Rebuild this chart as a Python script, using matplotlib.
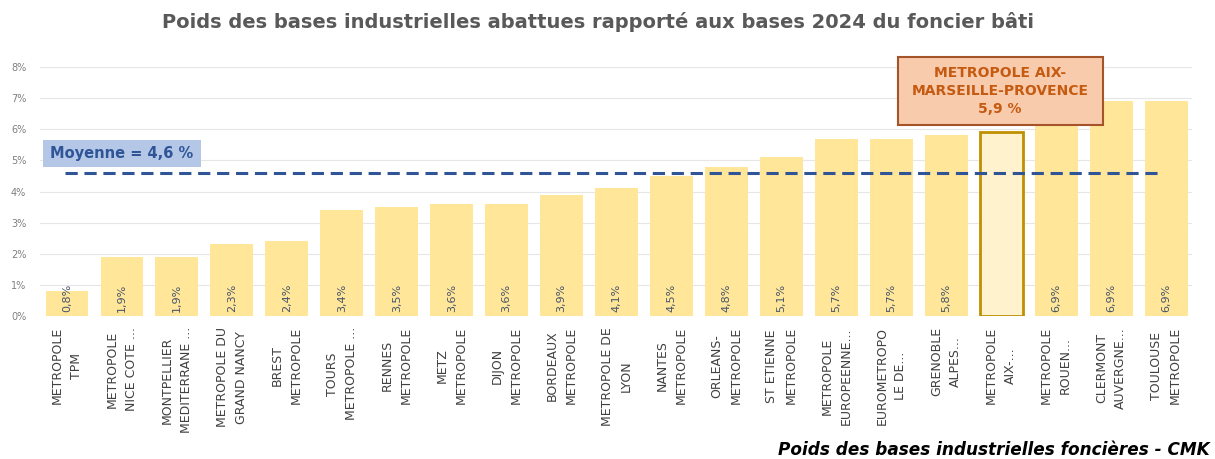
import numpy as np
import matplotlib.pyplot as plt
from matplotlib.patches import Rectangle

# Data
labels = [
    "METROPOLE\nTPM", "METROPOLE\nNICE COTE ...", "MONTPELLIER\nMEDITERRANE ...",
    "METROPOLE DU\nGRAND NANCY", "BREST\nMETROPOLE", "TOURS\nMETROPOLE ...",
    "RENNES\nMETROPOLE", "METZ\nMETROPOLE", "DIJON\nMETROPOLE",
    "BORDEAUX\nMETROPOLE", "METROPOLE DE\nLYON", "NANTES\nMETROPOLE",
    "ORLEANS-\nMETROPOLE", "ST ETIENNE\nMETROPOLE", "METROPOLE\nEUROPEENNE...",
    "EUROMETROPO\nLE DE...", "GRENOBLE\nALPES...", "METROPOLE\nAIX-...",
    "METROPOLE\nROUEN...", "CLERMONT\nAUVERGNE...", "TOULOUSE\nMETROPOLE",
]
values = [0.8, 1.9, 1.9, 2.3, 2.4, 3.4, 3.5, 3.6, 3.6, 3.9, 4.1,
          4.5, 4.8, 5.1, 5.7, 5.7, 5.8, 5.9, 6.9, 6.9, 6.9]
highlight = 17  # Aix-Marseille-Provence
mean_value = 4.6

x = np.arange(len(values))

fig = plt.figure(figsize=(12.15, 4.59), dpi=100)
ax = fig.add_axes([0.033, 0.3115, 0.948, 0.5425])

colors = ['#FFE699'] * len(values)
colors[highlight] = '#FFF2CC'
bars = ax.bar(x, values, width=0.78, color=colors, zorder=2)
bars[highlight].set_edgecolor('#BF9000')
bars[highlight].set_linewidth(2)

# value labels (rotated, at the bottom of each bar)
for i, v in enumerate(values):
    if i == highlight:
        continue
    ax.text(i, 0.12, f"{v:.1f}%".replace('.', ','), rotation=90,
            ha='center', va='bottom', fontsize=8, color='#44546A', zorder=3)

# mean line
ax.hlines(mean_value, x[0] - 0.04, x[-1] - 0.07, colors='#2F5597',
          linestyles=(0, (4, 2.2)), linewidth=2.2, zorder=4)
ax.add_patch(Rectangle((-0.437, 4.79), 2.88, 0.87, facecolor='#B4C7E7',
                       edgecolor='none', zorder=4, clip_on=False))
ax.text(1.0, 5.22, "Moyenne = " + f"{mean_value:.1f}".replace('.', ',') + " %",
        ha='center', va='center', fontsize=10.5, fontweight='bold',
        color='#2F5597', zorder=5)

# highlighted callout
ax.add_patch(Rectangle((15.12, 6.14), 3.73, 2.19, facecolor='#F8CBAD',
                       edgecolor='#A5542A', linewidth=1.5, zorder=5,
                       clip_on=False))
ax.text(16.98, 7.24,
        "METROPOLE AIX-\nMARSEILLE-PROVENCE\n" +
        f"{values[highlight]:.1f}".replace('.', ',') + " %",
        ha='center', va='center', fontsize=10, fontweight='bold',
        color='#C55A11', linespacing=1.35, zorder=6, clip_on=False)

ax.set_xlim(-0.49, 20.47)
ax.set_ylim(0, 8)
ax.set_yticks(range(0, 9))
ax.set_yticklabels([f"{t}%" for t in range(0, 9)], fontsize=7, color='#7F7F7F')
ax.set_xticks(x)
ax.set_xticklabels(labels, rotation=90, fontsize=9, color='#404040',
                   va='top', ha='center', multialignment='center',
                   linespacing=1.6)
ax.tick_params(axis='both', length=0)
ax.tick_params(axis='x', pad=8)
ax.tick_params(axis='y', pad=10)
ax.grid(axis='y', color='#E6E6E6', linewidth=0.8, zorder=0)
for s in ax.spines.values():
    s.set_visible(False)

fig.text(0.492, 0.952,
         "Poids des bases industrielles abattues rapporté aux bases 2024 du foncier bâti",
         ha='center', va='center', fontsize=14, fontweight='bold',
         color='#595959')
fig.text(0.996, 0.02, "Poids des bases industrielles foncières - CMK",
         ha='right', va='center', fontsize=12.2, fontweight='bold',
         style='italic', color='black')

fig.savefig('out.png', dpi=100)
